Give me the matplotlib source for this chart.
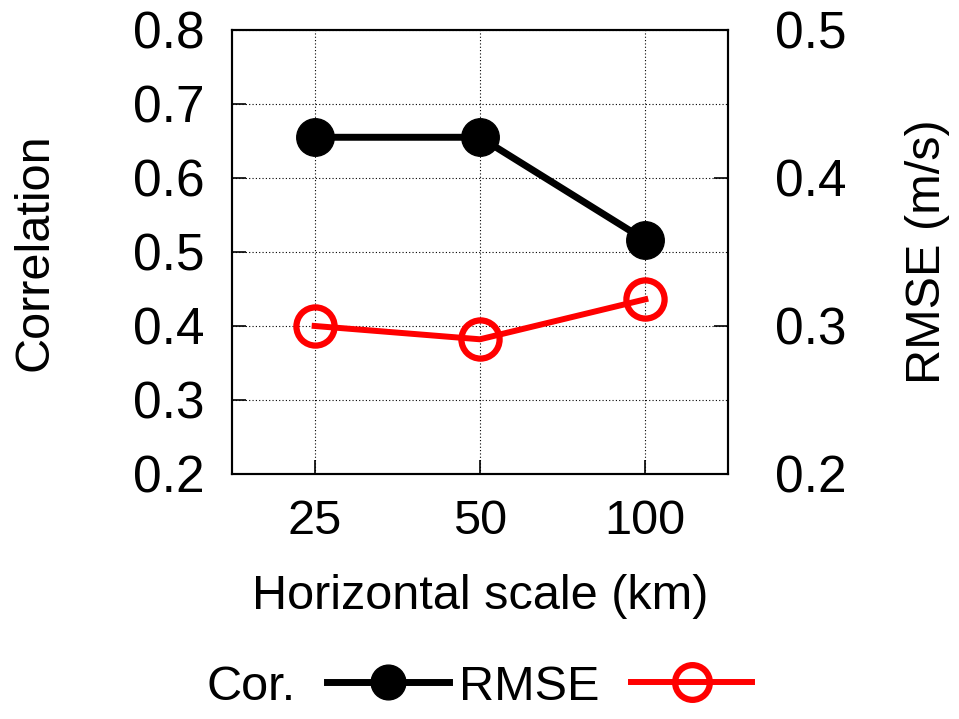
import numpy as np
import matplotlib
matplotlib.use('Agg')
import matplotlib.pyplot as plt
from matplotlib.lines import Line2D

plt.rcParams['font.family'] = ['Liberation Sans', 'DejaVu Sans']
plt.rcParams['font.size'] = 35

# data
scales = ['25', '50', '100']
cor = [0.655, 0.655, 0.516]
rmse = [0.300, 0.291, 0.318]

x = np.arange(1, len(scales) + 1)

fig = plt.figure(figsize=(9.59, 7.19), dpi=100)
ax = fig.add_axes([0.2419, 0.3408, 0.5172, 0.6175])
ax2 = ax.twinx()

ax.plot(x, cor, color='black', lw=5, marker='o', ms=27, mfc='black', mec='black', zorder=3)
ax2.plot(x, rmse, color='red', lw=4.3, marker='o', ms=27.5, mfc='none', mec='red', mew=4.5, zorder=3)

ax.set_xlim(0.5, 3.5)
ax.set_ylim(0.2, 0.8)
ax2.set_ylim(0.2, 0.5)
ax.set_xticks(x)
ax.set_xticklabels(scales)
ax.set_yticks(np.arange(0.2, 0.81, 0.1))
ax.set_yticklabels(['%.1f' % v for v in np.arange(0.2, 0.81, 0.1)], fontsize=37)
ax2.set_yticks(np.arange(0.2, 0.51, 0.1))
ax2.set_yticklabels(['%.1f' % v for v in np.arange(0.2, 0.51, 0.1)], fontsize=37)

ax.grid(True, linestyle=(0, (1, 2)), color='black', lw=0.8)
ax.tick_params(axis='y', direction='in', length=10, width=1.2, pad=20)
ax.tick_params(axis='x', direction='in', length=10, width=1.2, pad=18)
ax2.tick_params(direction='in', length=10, width=1.2, pad=34)
for a in (ax, ax2):
    for s in a.spines.values():
        s.set_linewidth(1.5)

ax.set_xlabel('Horizontal scale (km)')
ax.xaxis.set_label_coords(0.5, -0.277)
ax.set_ylabel('Correlation')
ax.yaxis.set_label_coords(-0.397, 0.5)
ax2.set_ylabel('RMSE (m/s)')
ax2.yaxis.set_label_coords(1.403, 0.5)
ax.xaxis.label.set_va('center')
ax.yaxis.label.set_va('center')
ax2.yaxis.label.set_va('center')

h1 = Line2D([], [], color='black', lw=5, marker='o', ms=25, mfc='black', mec='black')
h2 = Line2D([], [], color='red', lw=4.3, marker='o', ms=25, mfc='none', mec='red', mew=4.5)
fig.legend([h1, h2], ['Cor.', 'RMSE'], loc='center', bbox_to_anchor=(0.5, 1 - 687 / 719),
           ncol=2, frameon=False, markerfirst=False, handlelength=2.5,
           columnspacing=0.2, handletextpad=0.65)

fig.savefig('out.png', dpi=100)
